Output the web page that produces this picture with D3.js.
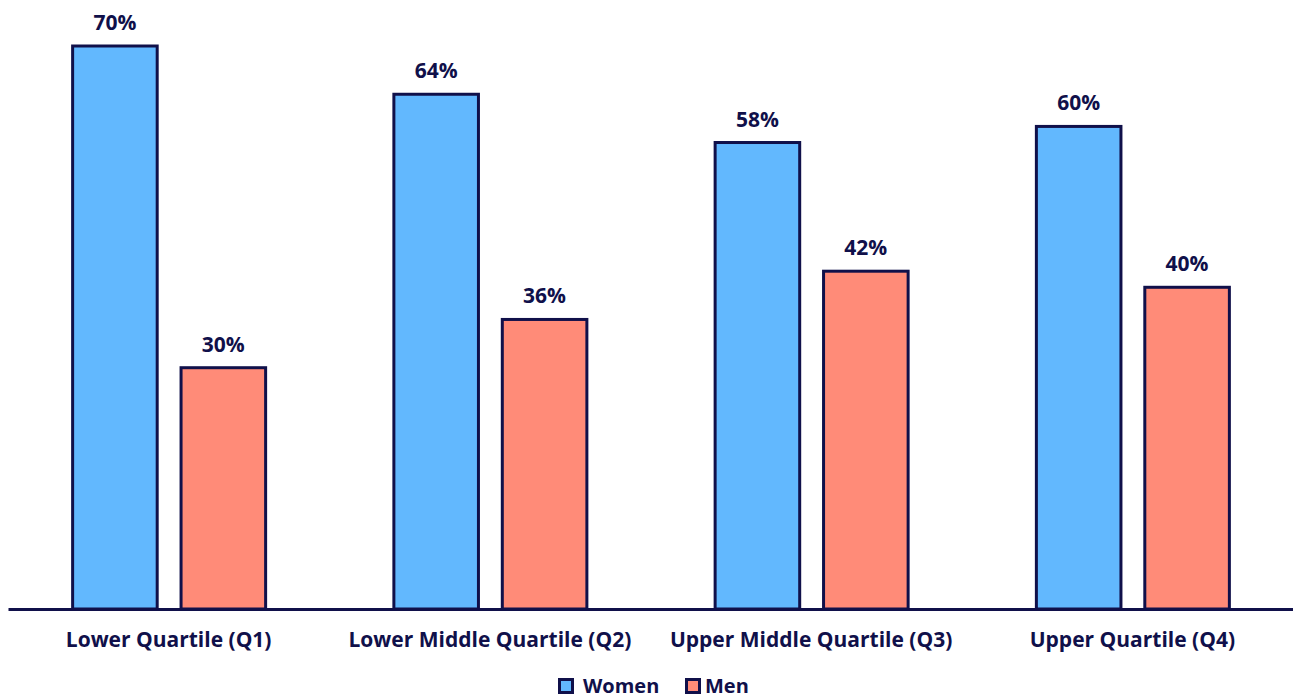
<!DOCTYPE html>
<html>
<head>
<meta charset="utf-8">
<script src="https://cdn.jsdelivr.net/npm/d3@7"></script>
<style>
  body { margin: 0; background: #fff; }
  svg text { font-family: "Open Sans", "Noto Sans", sans-serif; font-weight: 700; fill: #10104a; }
</style>
</head>
<body>
<div id="chart"></div>
<script>
// chart data
var quartiles = ['Lower Quartile (Q1)', 'Lower Middle Quartile (Q2)', 'Upper Middle Quartile (Q3)', 'Upper Quartile (Q4)'];
var seriesNames = ['Women', 'Men'];
var women = [70, 64, 58, 60];
var men = [30, 36, 42, 40];

var width = 1293, height = 698;
var navy = '#10104a';
var colors = { Women: '#62b8fe', Men: '#ff8b78' };

var svg = d3.select('#chart').append('svg')
    .attr('width', width)
    .attr('height', height);

var baseY = 609;

var x = d3.scaleBand()
    .domain(quartiles)
    .range([8, 1293])
    .paddingInner(0)
    .paddingOuter(0);

var xInner = d3.scaleBand()
    .domain(seriesNames)
    .range([x.bandwidth() / 2 - 96, x.bandwidth() / 2 + 97])
    .paddingInner(0.22);

var y = d3.scaleLinear()
    .domain([0, 70])
    .range([baseY, 46]);

var rows = quartiles.map(function(q, i) {
    return { q: q, values: [{ s: 'Women', v: women[i] }, { s: 'Men', v: men[i] }] };
});

var groups = svg.selectAll('g.group')
    .data(rows)
    .enter().append('g')
    .attr('class', 'group')
    .attr('transform', function(d) { return 'translate(' + x(d.q) + ',0)'; });

groups.selectAll('rect')
    .data(function(d) { return d.values; })
    .enter().append('rect')
    .attr('x', function(d) { return xInner(d.s); })
    .attr('y', function(d) { return y(d.v); })
    .attr('width', xInner.bandwidth())
    .attr('height', function(d) { return baseY - y(d.v); })
    .attr('fill', function(d) { return colors[d.s]; })
    .attr('stroke', navy)
    .attr('stroke-width', 3);

groups.selectAll('text.val')
    .data(function(d) { return d.values; })
    .enter().append('text')
    .attr('class', 'val')
    .attr('x', function(d) { return xInner(d.s) + xInner.bandwidth() / 2; })
    .attr('y', function(d) { return y(d.v) - 16; })
    .attr('text-anchor', 'middle')
    .style('font-size', '21px')
    .text(function(d) { return d.v + '%'; });

// x axis
var axis = svg.append('g')
    .attr('transform', 'translate(0,' + baseY + ')')
    .call(d3.axisBottom(x).tickSize(0).tickPadding(23));
axis.select('.domain').attr('stroke', navy).attr('stroke-width', 3);
axis.selectAll('text')
    .style('font-size', '21px')
    .style('font-family', '"Open Sans", sans-serif')
    .style('font-weight', 700)
    .attr('fill', navy);

// legend
var legend = svg.append('g').attr('transform', 'translate(559,679)');
var legendX = [0, 127];
seriesNames.forEach(function(s, i) {
    var g = legend.append('g').attr('transform', 'translate(' + legendX[i] + ',0)');
    g.append('rect')
        .attr('x', 0.5).attr('y', 0.5)
        .attr('width', 13).attr('height', 13)
        .attr('fill', colors[s])
        .attr('stroke', navy)
        .attr('stroke-width', 3);
    g.append('text')
        .attr('x', i === 0 ? 24 : 19)
        .attr('y', 14)
        .style('font-size', '20px')
        .text(s);
});
</script>
</body>
</html>
